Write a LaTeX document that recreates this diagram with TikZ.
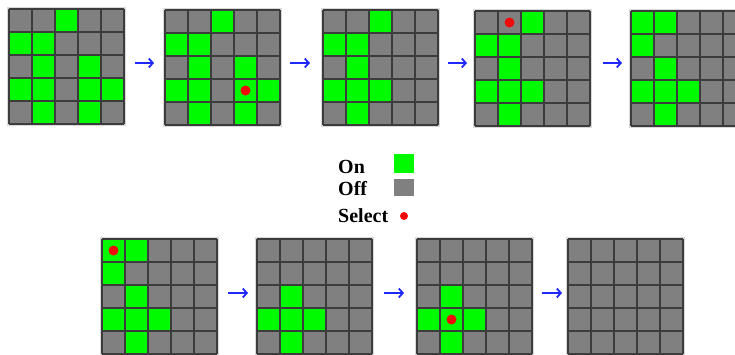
\documentclass[tikz,border=0pt]{standalone}
\usepackage{fontspec}
\setmainfont{Liberation Serif}
\usetikzlibrary{arrows.meta}
\definecolor{ongreen}{RGB}{0,250,0}
\definecolor{offgray}{RGB}{128,128,128}
\definecolor{linegray}{RGB}{60,60,60}
\definecolor{arrowblue}{RGB}{30,40,255}
\definecolor{selred}{RGB}{240,10,10}
\tikzset{
  gridbox/.style={draw=gray!30, line width=1.5pt, fill=offgray, minimum width=117pt, minimum height=117pt, inner sep=0pt},
  gridline/.style={draw=linegray, line width=1.1pt},
  oncell/.style={fill=ongreen},
  seldot/.style={fill=selred},
  flowarrow/.style={draw=arrowblue, line width=1.8pt, -{Straight Barb[length=4pt,width=9pt]}},
  legendtext/.style={font=\bfseries\fontsize{20}{24}\selectfont, anchor=base west, inner sep=0pt},
}
% #1 name, #2 left x, #3 top y, #4 list of green cells col/row
\newcommand{\cellgrid}[4]{%
  \node[gridbox] (#1) at ({#2+57.5},{#3+57.5}) {};
  \foreach \cc/\rr in {#4} {
    \fill[oncell] ({#2+23*\cc-23},{#3+23*\rr-23}) rectangle ++(23,23);
  }
  \foreach \ii in {0,...,5} {
    \draw[gridline] ({#2+23*\ii},#3) -- ++(0,115);
    \draw[gridline] (#2,{#3+23*\ii}) -- ++(115,0);
  }
}
% #1 name, #2 left x, #3 top y, #4 col, #5 row
\newcommand{\selmark}[5]{%
  \fill[seldot] ({#2+23*#4-11.5},{#3+23*#5-11.5}) circle (5);
  \coordinate (#1) at ({#2+23*#4-11.5},{#3+23*#5-11.5});
}
\begin{document}
\begin{tikzpicture}[x=1pt,y=-1pt]
\fill[white] (0,0) rectangle (735,354);
\clip (0,0) rectangle (735,354);
% top row
\cellgrid{g1}{9}{9}{3/1,1/2,2/2,2/3,4/3,1/4,2/4,4/4,5/4,2/5,4/5}
\cellgrid{g2}{165}{10}{3/1,1/2,2/2,2/3,4/3,1/4,2/4,4/4,5/4,2/5,4/5}
\selmark{s2}{165}{10}{4}{4}
\cellgrid{g3}{323}{10}{3/1,1/2,2/2,2/3,1/4,2/4,3/4,2/5}
\cellgrid{g4}{475}{11}{3/1,1/2,2/2,2/3,1/4,2/4,3/4,2/5}
\selmark{s4}{475}{11}{2}{1}
\cellgrid{g5}{631}{11}{1/1,2/1,1/2,2/3,1/4,2/4,3/4,2/5}
% bottom row
\cellgrid{g6}{102}{239}{1/1,2/1,1/2,2/3,1/4,2/4,3/4,2/5}
\selmark{s6}{102}{239}{1}{1}
\cellgrid{g7}{257}{239}{2/3,1/4,2/4,3/4,2/5}
\cellgrid{g8}{417}{239}{2/3,1/4,2/4,3/4,2/5}
\selmark{s8}{417}{239}{2}{4}
\cellgrid{g9}{568}{239}{}
% arrows
\coordinate (a1s) at (135,63); \coordinate (a1e) at (154,63);
\coordinate (a2s) at (290,63); \coordinate (a2e) at (310,63);
\coordinate (a3s) at (448,63); \coordinate (a3e) at (467,63);
\coordinate (a4s) at (603,63); \coordinate (a4e) at (622,63);
\coordinate (a5s) at (228,293); \coordinate (a5e) at (248,293);
\coordinate (a6s) at (384,293); \coordinate (a6e) at (404,293);
\coordinate (a7s) at (542,293); \coordinate (a7e) at (562,293);
\foreach \k in {1,...,7} { \draw[flowarrow] (a\k s) -- (a\k e); }
% legend
\node[legendtext] (lon) at (338,173) {On};
\node[legendtext] (loff) at (338,195) {Off};
\node[legendtext] (lsel) at (338,222) {Select};
\fill[oncell] (394,154) rectangle (414,173);
\node[inner sep=0pt, minimum size=0pt] (kon) at (404,163.5) {};
\fill[offgray] (394,179) rectangle (414,196);
\node[inner sep=0pt, minimum size=0pt] (koff) at (404,187.5) {};
\fill[seldot] (404,216) circle (4);
\node[inner sep=0pt, minimum size=0pt] (ksel) at (404,216) {};
\end{tikzpicture}
\end{document}
